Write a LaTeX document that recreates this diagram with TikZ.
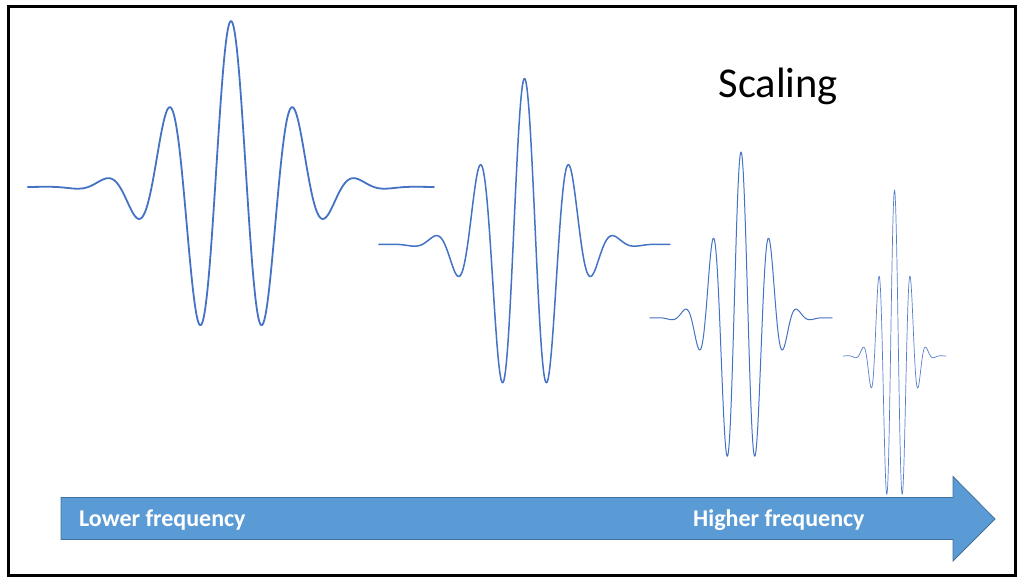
\documentclass[tikz,border=0pt]{standalone}
\usepackage{fontspec}
\setmainfont{Carlito}
\definecolor{wavecol}{HTML}{4472C4}
\definecolor{arrowfill}{HTML}{5B9BD5}
\definecolor{arrowline}{HTML}{41719C}
\tikzset{
  wave/.style={draw=wavecol, line join=round, line cap=round},
  arrowtext/.style={text=white, font=\bfseries\fontsize{24}{28}\selectfont, inner sep=0pt, anchor=base west},
}
\newcommand\wvlt[4]{%
  \draw[wave, line width=#4, domain=-3.2:3.2, samples=401, variable=\t]
    plot ({#1+\t*#3},{#2-166*cos(360*\t)*exp(-0.76*\t*\t)});}
\begin{document}
\begin{tikzpicture}[x=1pt,y=-1pt]
\useasboundingbox (0,0) rectangle (1022,586);
\fill[white] (0,0) rectangle (1022,586);
\draw[line width=3pt] (8,6.5) rectangle (1015,575.5);
% wavelets
\wvlt{231}{187}{63.5}{1.8pt}
\wvlt{524.5}{244.5}{45.5}{1.5pt}
\wvlt{741}{318}{28.5}{1.0pt}
\begin{scope}[opacity=0.9]
\wvlt{894.5}{356}{16}{0.7pt}
\end{scope}
% arrow
\draw[fill=arrowfill, draw=arrowline, line width=0.8pt, line join=miter]
  (61,497.5) -- (953,497.5) -- (953,476.5) -- (995,519) -- (953,561) -- (953,539.5) -- (61,539.5) -- cycle;
\node[arrowtext] (low) at (79,526.5) {Lower frequency};
\node[arrowtext] (high) at (693,526.5) {Higher frequency};
\node[font=\fontsize{42.5}{48}\selectfont, inner sep=0pt, anchor=base west] (title) at (718.5,97.5) {Scaling};
\end{tikzpicture}
\end{document}
